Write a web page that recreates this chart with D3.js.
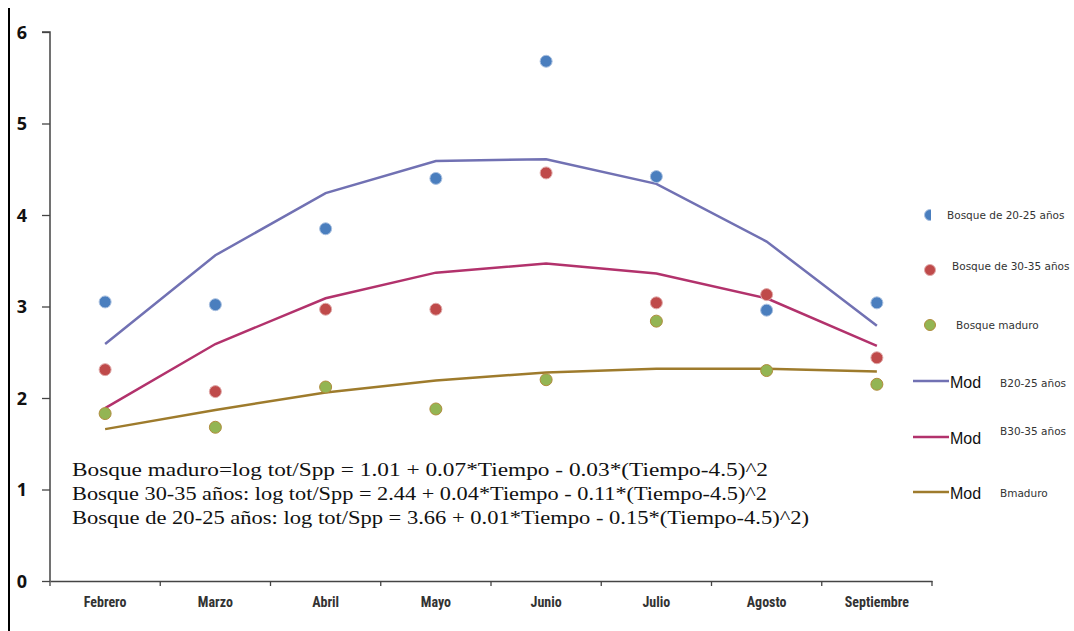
<!DOCTYPE html>
<html><head><meta charset="utf-8">
<script src="https://cdn.jsdelivr.net/npm/d3@7"></script>
<style>body{margin:0;background:#fff}svg{display:block}</style>
</head><body>
<svg id="c" width="1074" height="631"></svg>
<script>
const months = ["Febrero","Marzo","Abril","Mayo","Junio","Julio","Agosto","Septiembre"];
const obs2025 = [3.05,3.02,3.85,4.40,5.68,4.42,2.96,3.04];
const obs3035 = [2.31,2.07,2.97,2.97,4.46,3.04,3.13,2.44];
const obsMaduro = [1.83,1.68,2.12,1.88,2.20,2.84,2.30,2.15];
const mod2025 = [2.59,3.56,4.24,4.59,4.61,4.34,3.71,2.79];
const mod3035 = [1.89,2.59,3.09,3.37,3.47,3.36,3.09,2.57];
const modMaduro = [1.66,1.87,2.06,2.19,2.28,2.32,2.32,2.29];
const yTicks = [0,1,2,3,4,5,6];
const equations = [
  "Bosque maduro=log tot/Spp = 1.01 + 0.07*Tiempo - 0.03*(Tiempo-4.5)^2",
  "Bosque 30-35 años: log tot/Spp = 2.44 + 0.04*Tiempo - 0.11*(Tiempo-4.5)^2",
  "Bosque de 20-25 años: log tot/Spp = 3.66 + 0.01*Tiempo - 0.15*(Tiempo-4.5)^2)"
];
const eqWidths = [696, 695, 737];

const svg = d3.select("#c");
const x = d3.scaleBand().domain(months).range([50, 932]);
const y = d3.scaleLinear().domain([0, 6]).range([581, 32]);

// left border
svg.append("line").attr("x1",9).attr("x2",9).attr("y1",8).attr("y2",631)
  .attr("stroke","#000").attr("stroke-width",2);

// Y axis
const yAxis = svg.append("g").attr("transform","translate(50,0)")
  .call(d3.axisLeft(y).tickValues(yTicks).tickSize(8).tickPadding(15).tickFormat(d3.format("d")));
yAxis.select(".domain").attr("stroke","#444").attr("stroke-width",1.5).attr("d","M-8,32H0V581");
yAxis.selectAll(".tick line").attr("stroke","#444").attr("stroke-width",1.3);
yAxis.selectAll(".tick text").attr("font-family","'Open Sans', 'Liberation Sans', sans-serif")
  .attr("font-weight","bold").attr("font-size",18).attr("fill","#111").attr("dy","0.35em");

// X axis
const xAxis = svg.append("g").attr("transform","translate(0,581)")
  .call(d3.axisBottom(x).tickSize(0).tickPadding(16));
xAxis.select(".domain").attr("stroke","#444").attr("stroke-width",1.5);
xAxis.selectAll(".tick text").attr("font-family","'Liberation Sans Narrow','Roboto Condensed','Open Sans',sans-serif")
  .attr("font-weight","bold").attr("font-size",14).attr("fill","#333");
const bounds = months.map(m => x(m)).concat([x.range()[1]]);
svg.append("g").selectAll("line").data(bounds).join("line")
  .attr("x1",d=>d).attr("x2",d=>d).attr("y1",581).attr("y2",586)
  .attr("stroke","#444").attr("stroke-width",1.3);

const cx = m => x(m) + x.bandwidth()/2;

// model lines
const lineGen = d3.line().x((d,i)=>cx(months[i])).y(d=>y(d));
const lineSeries = [
  {v: mod2025, c:"#7171b3"},
  {v: mod3035, c:"#b2326c"},
  {v: modMaduro, c:"#9e7b2c"}
];
svg.append("g").selectAll("path").data(lineSeries).join("path")
  .attr("d", d=>lineGen(d.v)).attr("fill","none").attr("stroke",d=>d.c).attr("stroke-width",2.5);

// points
const ptSeries = [
  {v: obs2025, c:"#4a7ebe", s:"#a9c0e0"},
  {v: obs3035, c:"#bf4a4a", s:"#e0a9a9"},
  {v: obsMaduro, c:"#93b553", s:"#b08c3c"}
];
ptSeries.forEach(s => {
  svg.append("g").selectAll("circle").data(s.v).join("circle")
    .attr("cx",(d,i)=>cx(months[i])).attr("cy",d=>y(d)).attr("r",6)
    .attr("fill",s.c).attr("stroke",s.s).attr("stroke-width",1);
});

// equations
svg.append("g").selectAll("text").data(equations).join("text")
  .attr("x",72).attr("y",(d,i)=>476 + i*24)
  .attr("textLength",(d,i)=>eqWidths[i]).attr("lengthAdjust","spacingAndGlyphs")
  .attr("font-family","'Liberation Serif','DejaVu Serif',serif").attr("font-size",19)
  .attr("fill","#111").text(d=>d);

// legend
const defs = svg.append("defs");
defs.append("clipPath").attr("id","half").append("rect").attr("x",900).attr("y",200).attr("width",31).attr("height",30);
const lg = svg.append("g").attr("font-family","'DejaVu Sans','Liberation Sans',sans-serif");
const ptLegend = [
  {t:"Bosque de 20-25 años", cy:215, tx:947, c:ptSeries[0]},
  {t:"Bosque de 30-35 años", cy:270, tx:952, c:ptSeries[1]},
  {t:"Bosque maduro", cy:325, tx:956, c:ptSeries[2]}
];
ptLegend.forEach((d,i) => {
  const circ = lg.append("circle").attr("cx",930).attr("cy",d.cy).attr("r",5.5)
    .attr("fill",d.c.c).attr("stroke",d.c.s).attr("stroke-width",1);
  if (i===0) circ.attr("clip-path","url(#half)");
  lg.append("text").attr("x",d.tx).attr("y",d.cy + (i===1?-4:0)).attr("dy","0.35em")
    .attr("font-size",10.5).attr("fill","#333").text(d.t);
});
const lnLegend = [
  {t:"B20-25 años", ly:381, ty:383, c:lineSeries[0].c},
  {t:"B30-35 años", ly:437, ty:431, c:lineSeries[1].c},
  {t:"Bmaduro", ly:492, ty:493, c:lineSeries[2].c}
];
lnLegend.forEach(d => {
  lg.append("line").attr("x1",913).attr("x2",949).attr("y1",d.ly).attr("y2",d.ly)
    .attr("stroke",d.c).attr("stroke-width",2.5);
  lg.append("text").attr("x",950).attr("y",d.ly+1).attr("dy","0.35em")
    .attr("font-family","'Liberation Sans',Arial,sans-serif")
    .attr("font-size",16).attr("fill","#111").text("Mod");
  lg.append("text").attr("x",1000).attr("y",d.ty).attr("dy","0.35em")
    .attr("font-size",10.5).attr("fill","#333").text(d.t);
});
</script>
</body></html>
